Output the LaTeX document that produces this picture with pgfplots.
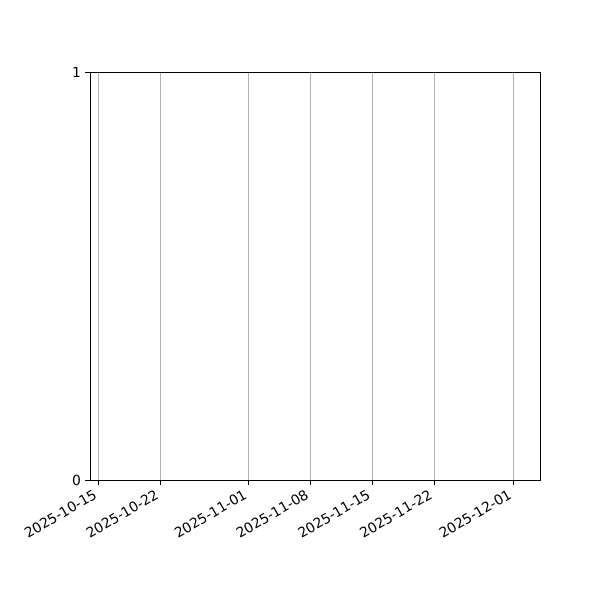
\documentclass[border=0pt]{standalone}
\usepackage{fontspec}
\setmainfont{DejaVu Sans}
\usepackage{pgfplots}
\pgfplotsset{compat=1.18}
\begin{document}
\begin{tikzpicture}
\path[use as bounding box] (0,0) rectangle (450pt,450pt);
\begin{axis}[
  at={(67.5pt,90pt)}, anchor=south west,
  scale only axis, width=337.5pt, height=306pt,
  xmin=-1, xmax=50, ymin=0, ymax=1,
  xtick={0,7,17,24,31,38,47},
  xticklabels={2025-10-15,2025-10-22,2025-11-01,2025-11-08,2025-11-15,2025-11-22,2025-12-01},
  ytick={0,1},
  /pgf/number format/assume math mode=true,
  tick label style={font=\fontsize{10.4}{12}\selectfont},
  xticklabel style={xshift=-4.5pt, yshift=-3pt, rotate=30, anchor=north east, inner sep=0pt},
  yticklabel style={inner sep=0pt, xshift=-3pt},
  tick align=outside, tick pos=left,
  major tick length=3.65pt,
  tick style={black, line width=0.6pt},
  axis line style={line width=0.6pt},
  xmajorgrids,
  grid style={color={rgb,255:red,176;green,176;blue,176}, line width=0.6pt},
]
\addplot[draw=none] coordinates {(0,0)};
\end{axis}
\end{tikzpicture}
\end{document}
